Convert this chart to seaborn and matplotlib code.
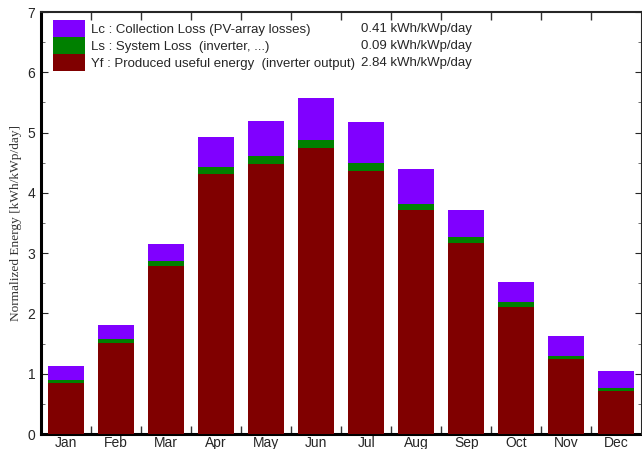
import numpy as np
import pandas as pd
import matplotlib
matplotlib.use("Agg")
import matplotlib.pyplot as plt
from matplotlib.patches import Patch
from matplotlib.ticker import MultipleLocator, FixedLocator
import seaborn as sns

months = ["Jan", "Feb", "Mar", "Apr", "May", "Jun", "Jul", "Aug", "Sep", "Oct", "Nov", "Dec"]
yf = [0.84, 1.51, 2.79, 4.31, 4.48, 4.74, 4.36, 3.71, 3.16, 2.11, 1.25, 0.72]
ls = [0.055, 0.06, 0.08, 0.12, 0.13, 0.14, 0.13, 0.11, 0.10, 0.08, 0.05, 0.04]
lc = [0.23, 0.23, 0.28, 0.50, 0.59, 0.69, 0.68, 0.58, 0.45, 0.33, 0.32, 0.29]
legend_names = ["Lc : Collection Loss (PV-array losses)",
                "Ls : System Loss  (inverter, ...)",
                "Yf : Produced useful energy  (inverter output)"]
legend_values = ["0.41 kWh/kWp/day", "0.09 kWh/kWp/day", "2.84 kWh/kWp/day"]
colors = ["#8000ff", "#008000", "#800000"]

df = pd.DataFrame({"month": months, "yf": yf, "ls": ls, "lc": lc})
df["top_ls"] = df["yf"] + df["ls"]
df["top_lc"] = df["top_ls"] + df["lc"]

sns.set_style("ticks")
plt.rcParams["font.family"] = ["Liberation Sans", "DejaVu Sans"]

fig = plt.figure(figsize=(6.42, 4.49), dpi=100)
ax = fig.add_axes([41/642, 15/449, 600.5/642, 422/449])

for col, c in zip(["top_lc", "top_ls", "yf"], colors):
    sns.barplot(data=df, x="month", y=col, color=c, saturation=1, width=0.72,
                linewidth=0, ax=ax, zorder=2)

ax.set_xlim(-0.5, 11.5)
ax.set_ylim(0, 7)
ax.set_xlabel("")
ax.set_ylabel("Normalized Energy [kWh/kWp/day]", family=["Liberation Serif"],
              fontsize=9.6, color="#333333", labelpad=4)

ax.yaxis.set_major_locator(MultipleLocator(1))
ax.yaxis.set_minor_locator(MultipleLocator(0.5))
ax.xaxis.set_minor_locator(FixedLocator(np.arange(0.5, 11, 1)))
ax.tick_params(axis="x", which="major", length=0, labelsize=10, pad=1.5)
ax.tick_params(axis="x", which="minor", length=6, direction="in", top=True, bottom=True, width=1, color="#333333")
ax.tick_params(axis="y", which="major", length=5, direction="in", left=True, right=True, labelsize=10, pad=4)
ax.tick_params(axis="y", which="minor", length=3, direction="in", left=True, right=True, color="#555555")

for s in ["top", "right"]:
    ax.spines[s].set_visible(True)
    ax.spines[s].set_linewidth(1.5)
for s in ["left", "bottom"]:
    ax.spines[s].set_linewidth(2.2)
    ax.spines[s].set_color("black")
ax.spines["bottom"].set_zorder(1)

fs = 9.5
handles = [Patch(facecolor=c, edgecolor="none") for c in colors]
leg = ax.legend(handles, legend_names, loc="upper left",
                bbox_to_anchor=(12/600.5, 1 - 8/422), frameon=False,
                borderpad=0, borderaxespad=0, handlelength=2.4, handleheight=1.6,
                handletextpad=0.5, labelspacing=0, prop={"size": fs})
for i, v in enumerate(legend_values):
    ax.text((471.5-41)/600.5, (434 - 28.5 - 17*i)/422, v, transform=ax.transAxes,
            va="center", ha="right", fontsize=fs)

fig.savefig("out.png", dpi=100)
